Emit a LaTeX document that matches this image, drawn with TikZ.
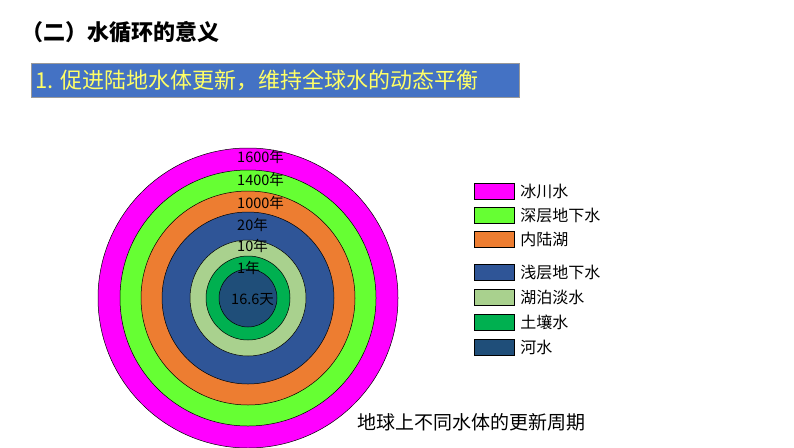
\documentclass[tikz,border=0pt]{standalone}
\usepackage{fontspec}
\setmainfont{Noto Sans CJK SC}
\usetikzlibrary{positioning}
\definecolor{glacier}{RGB}{255,0,255}
\definecolor{deepground}{RGB}{102,255,51}
\definecolor{inlandlake}{RGB}{237,125,49}
\definecolor{shallowground}{RGB}{47,85,151}
\definecolor{freshlake}{RGB}{169,209,142}
\definecolor{soilwater}{RGB}{0,176,80}
\definecolor{riverwater}{RGB}{31,78,121}
\definecolor{barblue}{RGB}{68,114,196}
\definecolor{baryellow}{RGB}{255,255,102}

\begin{document}
\begin{tikzpicture}[x=1pt,y=-1pt,
    ring/.style={draw=black, line width=0.5pt},
    yearlabel/.style={anchor=west, font=\fontsize{14.5}{14.5}\selectfont, inner sep=0pt},
    legendbox/.style={rectangle, draw=black, line width=0.5pt, minimum width=40pt, minimum height=16pt, inner sep=0pt},
    legendtext/.style={right=6pt of #1, font=\fontsize{16}{16}\selectfont, inner sep=0pt}
  ]
  \useasboundingbox (0,0) rectangle (794,447);
  \node[anchor=west, font=\bfseries\fontsize{22}{22}\selectfont] (title) at (18,32) {（二）水循环的意义};
  \node[rectangle, fill=barblue, draw=black!40, minimum width=488pt, minimum height=34pt, anchor=north west, inner sep=0pt] (bar) at (31,63) {};
  \node[anchor=west, text=baryellow, font=\fontsize{22}{22}\selectfont, inner sep=0pt] (bartext) at (35,80) {1. 促进陆地水体更新，维持全球水的动态平衡};

  % rings, outer to inner
  \foreach \r/\c in {150/glacier,128/deepground,107/inlandlake,86/shallowground,58/freshlake,42/soilwater,29/riverwater}
    \filldraw[ring, fill=\c] (248,298) circle (\r);

  \node[yearlabel] (y1600) at (237,157) {1600年};
  \node[yearlabel] (y1400) at (237,180) {1400年};
  \node[yearlabel] (y1000) at (237,203) {1000年};
  \node[yearlabel] (y20) at (237,225) {20年};
  \node[yearlabel] (y10) at (237,246) {10年};
  \node[yearlabel] (y1) at (237,268) {1年};
  \node[yearlabel] (yday) at (231,300) {16.6天};

  % legend
  \node[legendbox, fill=glacier] (lg1) at (494,191) {};
  \node[legendbox, fill=deepground] (lg2) at (494,215) {};
  \node[legendbox, fill=inlandlake] (lg3) at (494,239) {};
  \node[legendbox, fill=shallowground] (lg4) at (494,272) {};
  \node[legendbox, fill=freshlake] (lg5) at (494,297) {};
  \node[legendbox, fill=soilwater] (lg6) at (494,322) {};
  \node[legendbox, fill=riverwater] (lg7) at (494,347) {};
  \node[legendtext=lg1] (lt1) {冰川水};
  \node[legendtext=lg2] (lt2) {深层地下水};
  \node[legendtext=lg3] (lt3) {内陆湖};
  \node[legendtext=lg4] (lt4) {浅层地下水};
  \node[legendtext=lg5] (lt5) {湖泊淡水};
  \node[legendtext=lg6] (lt6) {土壤水};
  \node[legendtext=lg7] (lt7) {河水};

  \node[anchor=west, fill=white, inner sep=1pt, font=\fontsize{19}{19}\selectfont] (caption) at (356,422) {地球上不同水体的更新周期};
\end{tikzpicture}
\end{document}
